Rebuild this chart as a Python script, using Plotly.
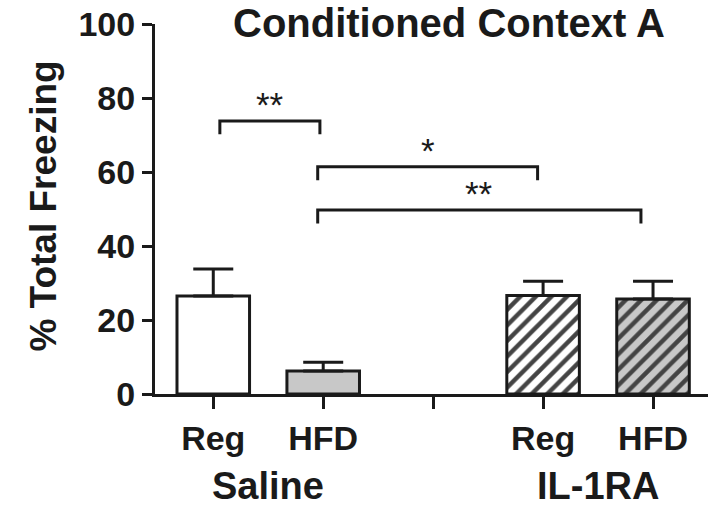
import plotly.graph_objects as go

# group / diet layout
positions = [0, 1, 3, 4]
diet = ["Reg", "HFD", "Reg", "HFD"]
groups = ["Saline", "IL-1RA"]
group_pos = [0.5, 3.5]

# mean % total freezing and SEM (upper only)
freezing = [26.5, 6.2, 26.6, 25.7]
sem = [7.3, 2.4, 3.9, 4.8]

fills = ["white", "#c8c8c8", "white", "#c8c8c8"]
hatch = ["", "", "/", "/"]

# significance brackets
br_left = [0.06, 0.95, 0.95]
br_right = [0.97, 2.95, 3.89]
br_height = [73.8, 61.4, 49.7]
br_label = ["**", "*", "**"]
br_drop = 3.6

FONT = "Liberation Sans, Arial, sans-serif"
INK = "#1a1a1a"

fig = go.Figure()
fig.add_trace(go.Bar(
    x=positions, y=freezing, width=0.66,
    marker=dict(color=fills, line=dict(color=INK, width=3),
                pattern=dict(shape=hatch, fgcolor="black", fgopacity=1,
                             size=11, solidity=0.4)),
    error_y=dict(type="data", symmetric=False, array=sem, arrayminus=[0] * len(sem),
                 color=INK, thickness=3, width=20),
    showlegend=False,
))

for x0, x1, h, lab in zip(br_left, br_right, br_height, br_label):
    fig.add_shape(type="path", xref="x", yref="y",
                  path=f"M {x0},{h - br_drop} L {x0},{h} L {x1},{h} L {x1},{h - br_drop}",
                  line=dict(color=INK, width=3))
    fig.add_annotation(x=(x0 + x1) / 2, y=h, xref="x", yref="y", text=lab,
                       showarrow=False, yanchor="bottom", yshift=-5,
                       font=dict(family=FONT, size=35, color=INK))

for g, gx in zip(groups, group_pos):
    fig.add_annotation(x=gx, y=-0.249, xref="x", yref="paper", text=g,
                       showarrow=False, yanchor="middle",
                       font=dict(family=FONT, size=38, color=INK, weight="bold"))

fig.add_annotation(x=0.532, y=1.003, xref="paper", yref="paper",
                   text="Conditioned Context A", showarrow=False, yanchor="middle",
                   font=dict(family=FONT, size=40, color=INK, weight="bold"))
fig.add_annotation(x=-0.244, y=0.508, xref="paper", yref="paper",
                   text="% Total Freezing", showarrow=False, textangle=-90,
                   font=dict(family=FONT, size=37, color=INK, weight="bold"))

fig.update_xaxes(range=[-0.53, 4.5], tickvals=[0, 1, 2, 3, 4],
                 ticktext=["Reg", "HFD", ""] + diet[2:],
                 showline=True, linecolor=INK, linewidth=3,
                 ticks="outside", ticklen=12, tickwidth=3, tickcolor=INK,
                 showgrid=False, zeroline=False,
                 tickfont=dict(family=FONT, size=34, color=INK, weight="bold"))
fig.update_yaxes(range=[0, 100], tickvals=[0, 20, 40, 60, 80, 100],
                 showline=True, linecolor=INK, linewidth=3,
                 ticks="outside", ticklen=10, tickwidth=3, tickcolor=INK,
                 showgrid=False, zeroline=False, ticklabeloverflow="allow",
                 tickfont=dict(family=FONT, size=34, color=INK, weight="bold"))

fig.update_layout(width=714, height=507, plot_bgcolor="white", paper_bgcolor="white",
                  margin=dict(l=155, r=6, t=24, b=113))

# drop the default 8px page margin so the figure sits at the window corner
fig.write_html("out.html", config={"displayModeBar": False},
               post_script="document.body.style.margin='0';")
